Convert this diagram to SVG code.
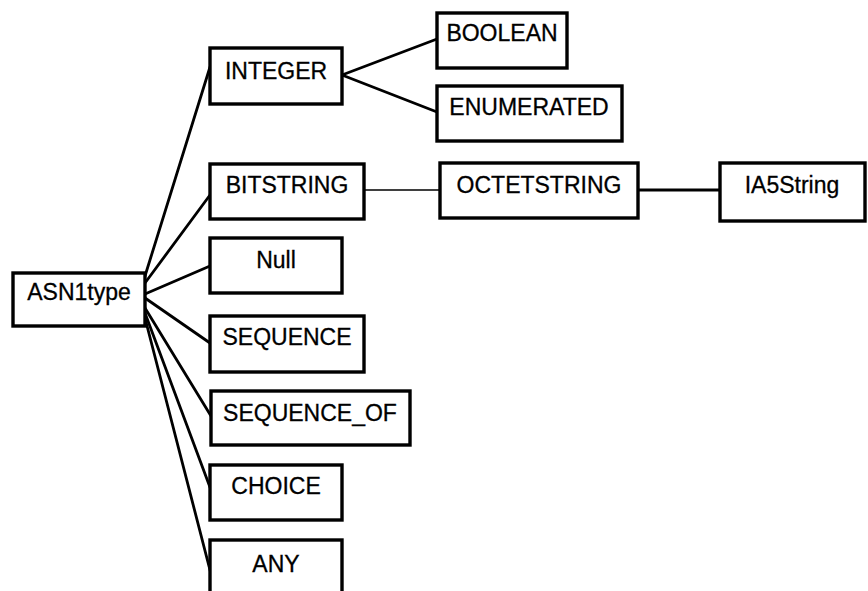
<svg xmlns="http://www.w3.org/2000/svg" width="868" height="591" viewBox="0 0 868 591">
  <style>
    .box { fill: #ffffff; stroke: #000000; stroke-width: 3.4; }
    .lbl { font-family: "Liberation Sans", Arial, sans-serif; font-size: 23px; fill: #000000; stroke: #000000; stroke-width: 0.3; text-anchor: middle; }
    .edge { stroke: #000000; stroke-width: 2.8; fill: none; stroke-linecap: round; }
    .thin { stroke-width: 1.6; }
  </style>
  <rect x="0" y="0" width="868" height="591" fill="#ffffff"/>

  <!-- connectors -->
  <g id="connectors">
    <line class="edge" x1="145" y1="276" x2="210" y2="67"/>
    <line class="edge" x1="145" y1="283" x2="210" y2="195"/>
    <line class="edge" x1="145" y1="294" x2="210" y2="266"/>
    <line class="edge" x1="145" y1="298" x2="210" y2="343"/>
    <line class="edge" x1="145" y1="308" x2="211" y2="416"/>
    <line class="edge" x1="145" y1="313" x2="211" y2="490"/>
    <line class="edge" x1="145" y1="318" x2="211" y2="574"/>
    <line class="edge" x1="342" y1="75" x2="437" y2="39"/>
    <line class="edge" x1="342" y1="75" x2="437" y2="112"/>
    <line class="edge thin" x1="364" y1="190" x2="440" y2="190"/>
    <line class="edge" x1="638" y1="190" x2="720" y2="190"/>
  </g>

  <g id="asn1type">
    <rect class="box" x="13" y="273" width="132" height="53"/>
    <text class="lbl" x="79" y="300">ASN1type</text>
  </g>
  <g id="integer">
    <rect class="box" x="210" y="48" width="132" height="56"/>
    <text class="lbl" x="276" y="79">INTEGER</text>
  </g>
  <g id="boolean">
    <rect class="box" x="437" y="13" width="130" height="55"/>
    <text class="lbl" x="502" y="41">BOOLEAN</text>
  </g>
  <g id="enumerated">
    <rect class="box" x="437" y="86" width="185" height="55"/>
    <text class="lbl" x="529" y="115">ENUMERATED</text>
  </g>
  <g id="bitstring">
    <rect class="box" x="210" y="164" width="154" height="55"/>
    <text class="lbl" x="287" y="193">BITSTRING</text>
  </g>
  <g id="octetstring">
    <rect class="box" x="440" y="163" width="198" height="55"/>
    <text class="lbl" x="539" y="193">OCTETSTRING</text>
  </g>
  <g id="ia5string">
    <rect class="box" x="720" y="163" width="145" height="58"/>
    <text class="lbl" x="792" y="193">IA5String</text>
  </g>
  <g id="null">
    <rect class="box" x="210" y="238" width="132" height="55"/>
    <text class="lbl" x="276" y="268">Null</text>
  </g>
  <g id="sequence">
    <rect class="box" x="210" y="316" width="154" height="56"/>
    <text class="lbl" x="287" y="345">SEQUENCE</text>
  </g>
  <g id="sequence_of">
    <rect class="box" x="211" y="391" width="199" height="54"/>
    <text class="lbl" x="310" y="421">SEQUENCE_OF</text>
  </g>
  <g id="choice">
    <rect class="box" x="210" y="465" width="132" height="55"/>
    <text class="lbl" x="276" y="494">CHOICE</text>
  </g>
  <g id="any">
    <rect class="box" x="210" y="540" width="132" height="60"/>
    <text class="lbl" x="276" y="572">ANY</text>
  </g>
</svg>
